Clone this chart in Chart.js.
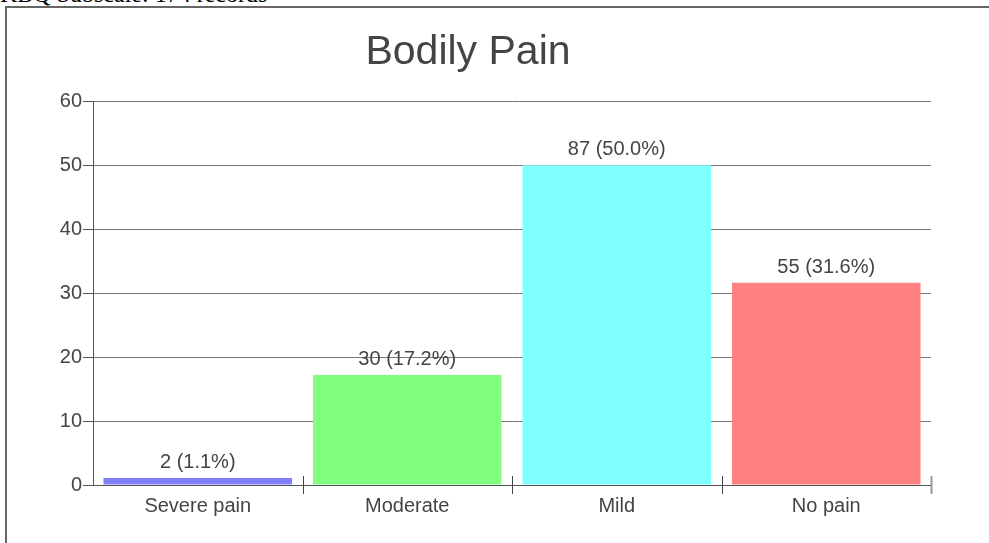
<!DOCTYPE html>
<html lang="en">
<head>
    <meta charset="UTF-8">
    <title>Bodily Pain</title>
    <script src="https://cdn.jsdelivr.net/npm/chart.js"></script>
    <style>
        html, body {
            margin: 0;
            padding: 0;
            width: 989px;
            height: 543px;
            overflow: hidden;
            background: #fff;
        }
        .header {
            position: absolute;
            left: 0;
            top: -18px;
            font-family: "Liberation Serif", "Times New Roman", serif;
            font-size: 24px;
            line-height: 24px;
            color: #000;
            white-space: nowrap;
        }
        .frame {
            position: absolute;
            left: 5px;
            top: 6px;
            width: 1100px;
            height: 700px;
            border: 2px solid #666;
        }
        .chart-box {
            position: absolute;
            left: 0;
            top: 0;
            width: 989px;
            height: 543px;
        }
    </style>
</head>
<body>
    <div class="frame"></div>
    <div class="header">KBQ Subscale: 174 records</div>
    <div class="chart-box">
        <canvas id="painChart" width="989" height="543"></canvas>
    </div>

    <script>
        // Bodily pain subscale, 174 records
        const categories = ["Severe pain", "Moderate", "Mild", "No pain"];
        const counts = [2, 30, 87, 55];
        const percents = [1.1, 17.2, 50.0, 31.6];
        const barColors = ["#8080ff", "#80ff80", "#80ffff", "#ff8080"];
        const yTicks = [0, 10, 20, 30, 40, 50, 60];

        const textColor = "#444";
        const fontFamily = "Arial, 'Liberation Sans', sans-serif";

        // "count (pct%)" above each bar
        const valueLabels = {
            id: 'valueLabels',
            afterDatasetsDraw(chart) {
                const ctx = chart.ctx;
                const meta = chart.getDatasetMeta(0);
                ctx.save();
                ctx.font = "20px " + fontFamily;
                ctx.fillStyle = textColor;
                ctx.textAlign = 'center';
                ctx.textBaseline = 'alphabetic';
                meta.data.forEach((bar, i) => {
                    const txt = counts[i] + " (" + percents[i].toFixed(1) + "%)";
                    ctx.fillText(txt, bar.x, bar.y - 10);
                });
                ctx.restore();
            }
        };

        // small tick marks crossing the x axis between categories
        const xCrossTicks = {
            id: 'xCrossTicks',
            afterDraw(chart) {
                const ctx = chart.ctx;
                const x = chart.scales.x;
                const bottom = chart.chartArea.bottom;
                ctx.save();
                for (let i = 1; i <= categories.length; i++) {
                    const px = i < categories.length
                        ? (x.getPixelForValue(i - 1) + x.getPixelForValue(i)) / 2
                        : x.right;
                    const last = i === categories.length;
                    ctx.strokeStyle = last ? "#999" : "#444";
                    ctx.lineWidth = last ? 2 : 1;
                    ctx.beginPath();
                    ctx.moveTo(Math.round(px) + 0.5, bottom - 9);
                    ctx.lineTo(Math.round(px) + 0.5, bottom + 9);
                    ctx.stroke();
                }
                ctx.restore();
            }
        };

        const ctx = document.getElementById('painChart').getContext('2d');
        new Chart(ctx, {
            type: 'bar',
            data: {
                labels: categories,
                datasets: [{
                    data: percents,
                    backgroundColor: barColors,
                    borderWidth: 0,
                    barPercentage: 0.9,
                    categoryPercentage: 1.0
                }]
            },
            options: {
                responsive: false,
                animation: false,
                layout: { padding: { left: 5, right: 58, top: 0, bottom: 0 } },
                plugins: {
                    legend: { display: false },
                    tooltip: { enabled: false },
                    title: {
                        display: true,
                        text: "Bodily Pain",
                        color: textColor,
                        font: { family: fontFamily, size: 41, weight: 'normal', lineHeight: 1.2 },
                        padding: { top: 28, bottom: 24 }
                    }
                },
                scales: {
                    x: {
                        afterFit(scale) { scale.height = 58; },
                        grid: { display: false, drawTicks: false },
                        border: { display: true, color: "#555", width: 1 },
                        ticks: {
                            color: textColor,
                            font: { family: fontFamily, size: 20 },
                            padding: 9,
                            maxRotation: 0
                        }
                    },
                    y: {
                        min: 0,
                        max: 60,
                        afterFit(scale) { scale.width = 88; },
                        afterBuildTicks(scale) {
                            scale.ticks = yTicks.map(v => ({ value: v }));
                        },
                        grid: {
                            color: "#777",
                            tickLength: 10,
                            tickColor: "#555",
                            drawTicks: true
                        },
                        border: { display: true, color: "#555", width: 1 },
                        ticks: {
                            color: textColor,
                            font: { family: fontFamily, size: 20 },
                            padding: 1
                        }
                    }
                }
            },
            plugins: [valueLabels, xCrossTicks]
        });
    </script>
</body>
</html>
